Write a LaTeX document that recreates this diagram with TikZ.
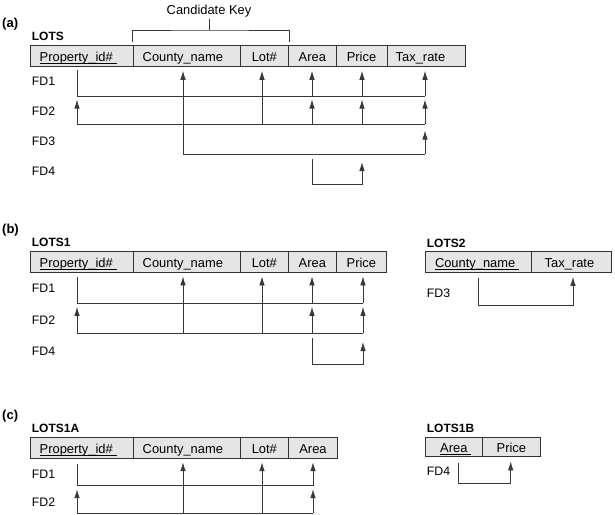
\documentclass[tikz,border=0pt]{standalone}
\usepackage{fontspec}
\setmainfont{Liberation Sans}
\usetikzlibrary{arrows.meta,calc}
\newlength\keyw
\newcommand\keyul[1]{\settowidth{\keyw}{#1}\addtolength{\keyw}{4pt}\rlap{\rule[-2.2pt]{\keyw}{0.7pt}}#1}
\begin{document}
\begin{tikzpicture}[x=1pt,y=-1pt]
\tikzset{
  cell/.style={draw=black!80, fill=black!10, line width=0.8pt, minimum height=21pt,
    inner xsep=0pt, inner ysep=0pt, text height=11pt, text depth=0pt,
    font=\fontsize{12.9}{14}\selectfont},
  cellL/.style={text width=#1, align=left},
  ln/.style={draw=black!78, line width=0.8pt},
  arr/.style={ln, -{Latex[length=9pt,width=5.5pt]}, shorten >=3.5pt},
  tname/.style={font=\fontsize{12}{14}\selectfont\bfseries, anchor=west, inner sep=0pt},
  fdl/.style={font=\fontsize{12.3}{14}\selectfont, anchor=west, inner sep=0pt},
  part/.style={font=\fontsize{13}{15}\selectfont\bfseries, anchor=west, inner sep=0pt},
}
\useasboundingbox (0,0) rectangle (615,514);

% ---------------- (a) ----------------
\node[part] (pa) at (2,24) {(a)};
\node[tname] (t-lots) at (31.7,36.7) {LOTS};
\node[cell, cellL=84.3pt, inner xsep=9pt] (a-pid) at (81.85,56.35) {\keyul{Property\_id\#}};
\node[cell, cellL=87.6pt, inner xsep=9.7pt] (a-cty) at (186.5,56.35) {County\_name};
\node[cell, minimum width=48.7pt] (a-lot) at (264.35,56.35) {Lot\#};
\node[cell, minimum width=47.3pt] (a-area) at (312.35,56.35) {Area};
\node[cell, minimum width=51pt] (a-price) at (361.5,56.35) {Price};
\node[cell, cellL=60.6pt, inner xsep=8.7pt] (a-tax) at (426,56.35) {Tax\_rate};

\node[font=\fontsize{12.9}{14}\selectfont, anchor=base, inner sep=0pt] (ck-text) at (209,14) {Candidate Key};
\coordinate (ck) at (209,30);
\draw[ln] ($(a-cty.north west)+(0,-3.7)$) |- (ck) -| ($(a-lot.north east)+(0,-3.7)$);
\draw[ln, shorten >=2.5pt] (ck) -- (ck-text.south);

\node[fdl] (a-fd1) at (31.7,81.7) {FD1};
\node[fdl] (a-fd2) at (31.7,111.7) {FD2};
\node[fdl] (a-fd3) at (31.7,141.7) {FD3};
\node[fdl] (a-fd4) at (31.7,171.7) {FD4};

\coordinate (a-k1) at ([xshift=-4.85pt]a-pid.south);
\coordinate (a-k2) at ([xshift=-3.5pt]a-cty.south);
\coordinate (a-k3) at ([xshift=-2.35pt]a-lot.south);
\coordinate (a-k4) at ([xshift=-0.35pt]a-area.south);
\coordinate (a-k5) at ([xshift=0.5pt]a-price.south);
\coordinate (a-k6) at ([xshift=-1pt]a-tax.south);
\coordinate (a-h1) at (0,96);
\coordinate (a-h2) at (0,124);
\coordinate (a-h3) at (0,154);
\coordinate (a-h4) at (0,184);

% FD1
\draw[ln] ($(a-k1)+(0,3)$) |- (a-k6 |- a-h1);
\foreach \k in {2,...,6} \draw[arr] (a-k\k |- a-h1) -- (a-k\k);
% FD2
\draw[ln] (a-k1 |- a-h2) -- (a-k6 |- a-h2);
\draw[arr] (a-k1 |- a-h2) -- (a-k1 |- a-h1);
\draw[ln] (a-k3 |- a-h1) -- (a-k3 |- a-h2);
\draw[ln] (a-k2 |- a-h1) -- (a-k2 |- a-h3);
\foreach \k in {4,5,6} \draw[arr] (a-k\k |- a-h2) -- (a-k\k |- a-h1);
% FD3
\draw[ln] (a-k2 |- a-h3) -- (a-k6 |- a-h3);
\draw[arr, shorten >=6.5pt] (a-k6 |- a-h3) -- (a-k6 |- a-h2);
% FD4
\draw[arr, shorten >=8pt] ($(a-k4 |- a-h3)+(0,5)$) |- (a-k5 |- a-h4) -- (a-k5 |- a-h3);

% ---------------- (b) ----------------
\node[part] (pb) at (2,230) {(b)};
\node[tname] (t-lots1) at (31.7,242.5) {LOTS1};
\node[cell, cellL=84.3pt, inner xsep=9pt] (b-pid) at (81.85,262) {\keyul{Property\_id\#}};
\node[cell, cellL=87.6pt, inner xsep=9.7pt] (b-cty) at (186.5,262) {County\_name};
\node[cell, minimum width=48.7pt] (b-lot) at (264.35,262) {Lot\#};
\node[cell, minimum width=47.3pt] (b-area) at (312.35,262) {Area};
\node[cell, minimum width=50.7pt] (b-price) at (361.35,262) {Price};

\node[fdl] (b-fd1) at (31.7,288.3) {FD1};
\node[fdl] (b-fd2) at (31.7,320) {FD2};
\node[fdl] (b-fd4) at (31.7,351.7) {FD4};

\coordinate (b-k1) at ([xshift=-4.85pt]b-pid.south);
\coordinate (b-k2) at ([xshift=-3.5pt]b-cty.south);
\coordinate (b-k3) at ([xshift=-2.35pt]b-lot.south);
\coordinate (b-k4) at ([xshift=-0.35pt]b-area.south);
\coordinate (b-k5) at ([xshift=1.65pt]b-price.south);
\coordinate (b-h1) at (0,303.3);
\coordinate (b-h2) at (0,333.3);
\coordinate (b-h4) at (0,364);

\draw[ln] ($(b-k1)+(0,4)$) |- (b-k5 |- b-h1);
\foreach \k in {2,...,5} \draw[arr] (b-k\k |- b-h1) -- (b-k\k);
\draw[ln] (b-k1 |- b-h2) -- (b-k5 |- b-h2);
\draw[arr] (b-k1 |- b-h2) -- (b-k1 |- b-h1);
\foreach \k in {2,3} \draw[ln] (b-k\k |- b-h1) -- (b-k\k |- b-h2);
\foreach \k in {4,5} \draw[arr] (b-k\k |- b-h2) -- (b-k\k |- b-h1);
\draw[arr, shorten >=8.7pt] ($(b-k4 |- b-h2)+(0,5)$) |- (b-k5 |- b-h4) -- (b-k5 |- b-h2);

% LOTS2
\node[tname] (t-lots2) at (426.7,243.8) {LOTS2};
\node[cell, cellL=86.7pt, inner xsep=10pt] (l2-cty) at (478.35,261.5) {\keyul{County\_name}};
\node[cell, cellL=54pt, inner xsep=13pt] (l2-tax) at (571.7,261.5) {Tax\_rate};
\node[fdl] (l2-fd3) at (426.7,293.3) {FD3};
\coordinate (l2-k1) at ([xshift=-0.35pt]l2-cty.south);
\coordinate (l2-k2) at ([xshift=1.3pt]l2-tax.south);
\coordinate (l2-h) at (0,305);
\draw[arr, shorten >=4.5pt] ($(l2-k1)+(0,6)$) |- (l2-k2 |- l2-h) -- (l2-k2);

% ---------------- (c) ----------------
\node[part] (pc) at (2,415.8) {(c)};
\node[tname] (t-lots1a) at (31.7,428.8) {LOTS1A};
\node[cell, cellL=84.3pt, inner xsep=9pt] (c-pid) at (81.85,447.8) {\keyul{Property\_id\#}};
\node[cell, cellL=87.6pt, inner xsep=9.7pt] (c-cty) at (186.5,447.8) {County\_name};
\node[cell, minimum width=48.7pt] (c-lot) at (264.35,447.8) {Lot\#};
\node[cell, minimum width=48.6pt] (c-area) at (313,447.8) {Area};

\node[fdl] (c-fd1) at (31.7,474) {FD1};
\node[fdl] (c-fd2) at (31.7,502) {FD2};

\coordinate (c-k1) at ([xshift=-4.85pt]c-pid.south);
\coordinate (c-k2) at ([xshift=-3.5pt]c-cty.south);
\coordinate (c-k3) at ([xshift=-2.35pt]c-lot.south);
\coordinate (c-k4) at (c-area.south);
\coordinate (c-h1) at (0,485.7);
\coordinate (c-h2) at (0,513.2);

\draw[ln] ($(c-k1)+(0,5.7)$) |- (c-k4 |- c-h1);
\foreach \k in {2,...,4} \draw[arr] (c-k\k |- c-h1) -- (c-k\k);
\draw[ln] (c-k1 |- c-h2) -- (c-k4 |- c-h2);
\draw[arr] (c-k1 |- c-h2) -- (c-k1 |- c-h1);
\foreach \k in {2,3} \draw[ln] (c-k\k |- c-h1) -- (c-k\k |- c-h2);
\draw[arr] (c-k4 |- c-h2) -- (c-k4 |- c-h1);

% LOTS1B
\node[tname] (t-lots1b) at (426.7,428.3) {LOTS1B};
\node[cell, minimum width=57.7pt, minimum height=19.4pt] (l1b-area) at (453.85,447) {\keyul{Area}};
\node[cell, minimum width=57.3pt, minimum height=19.4pt] (l1b-price) at (511.35,447) {Price};
\node[fdl] (l1b-fd4) at (426.7,471.3) {FD4};
\coordinate (l1b-k1) at ([xshift=4.45pt]l1b-area.south);
\coordinate (l1b-k2) at ([xshift=-0.65pt]l1b-price.south);
\coordinate (l1b-h) at (0,483);
\draw[arr, shorten >=4.3pt] ($(l1b-k1)+(0,6.3)$) |- (l1b-k2 |- l1b-h) -- (l1b-k2);
\end{tikzpicture}
\end{document}
